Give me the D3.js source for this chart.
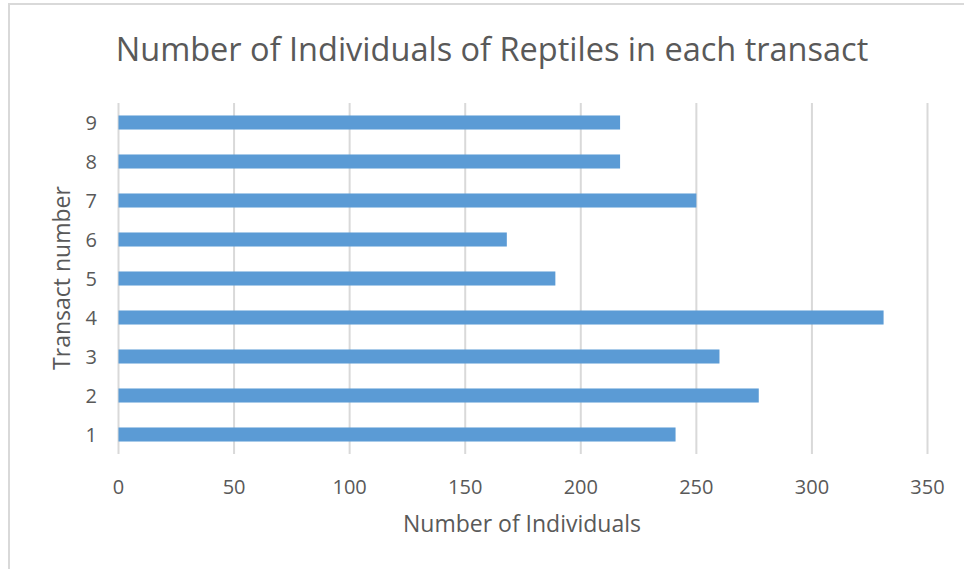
<!DOCTYPE html>
<meta charset="utf-8">
<style>
body{margin:0;background:#fff;}
svg text{font-family:"Open Sans","Noto Sans",sans-serif;fill:#595959;}
</style>
<svg id="chart" width="964" height="569"></svg>
<script src="https://d3js.org/d3.v7.min.js"></script>
<script>
// transect numbers and counts
const transects = ["1","2","3","4","5","6","7","8","9"]
const counts = [241, 277, 260, 331, 189, 168, 250, 217, 217]
const xTicks = [0, 50, 100, 150, 200, 250, 300, 350]

const titleText = "Number of Individuals of Reptiles in each transact"
const xTitle = "Number of Individuals"
const yTitle = "Transact number"

let svg = d3.select('#chart')

// chart frame (only left and top edges show in the picture)
svg.append('path')
  .attr('d', 'M9,569 V4 H964')
  .attr('fill', 'none')
  .attr('stroke', '#d9d9d9')
  .attr('stroke-width', 2)

let x = d3.scaleLinear().domain([0, 350]).range([118.5, 927.5])
let y = d3.scaleBand().domain(transects.slice().reverse()).range([103, 454]).paddingInner(0.64).paddingOuter(0.32)

// grid
svg.append('g').selectAll('line').data(xTicks).join('line')
  .attr('x1', d => x(d)).attr('x2', d => x(d))
  .attr('y1', 103).attr('y2', 454)
  .attr('stroke', '#d9d9d9').attr('stroke-width', 2)

// bars
svg.append('g').selectAll('rect').data(counts).join('rect')
  .attr('x', x(0))
  .attr('y', (d, i) => y(transects[i]))
  .attr('width', d => x(d) - x(0))
  .attr('height', y.bandwidth())
  .attr('fill', '#5b9bd5')

// x tick labels
svg.append('g').selectAll('text').data(xTicks).join('text')
  .attr('x', d => x(d)).attr('y', 494)
  .attr('text-anchor', 'middle')
  .style('font-size', '20px')
  .text(d => d)

// y tick labels
svg.append('g').selectAll('text').data(transects).join('text')
  .attr('x', 97).attr('y', d => y(d) + y.bandwidth() / 2)
  .attr('dy', '0.36em')
  .attr('text-anchor', 'end')
  .style('font-size', '20px')
  .text(d => d)

svg.append('text')
  .attr('x', 492).attr('y', 61)
  .attr('text-anchor', 'middle')
  .style('font-size', '32.5px')
  .text(titleText)

svg.append('text')
  .attr('x', 522).attr('y', 532)
  .attr('text-anchor', 'middle')
  .style('font-size', '23px')
  .text(xTitle)

svg.append('text')
  .attr('transform', 'translate(70,278) rotate(-90)')
  .attr('text-anchor', 'middle')
  .style('font-size', '23px')
  .text(yTitle)
</script>
